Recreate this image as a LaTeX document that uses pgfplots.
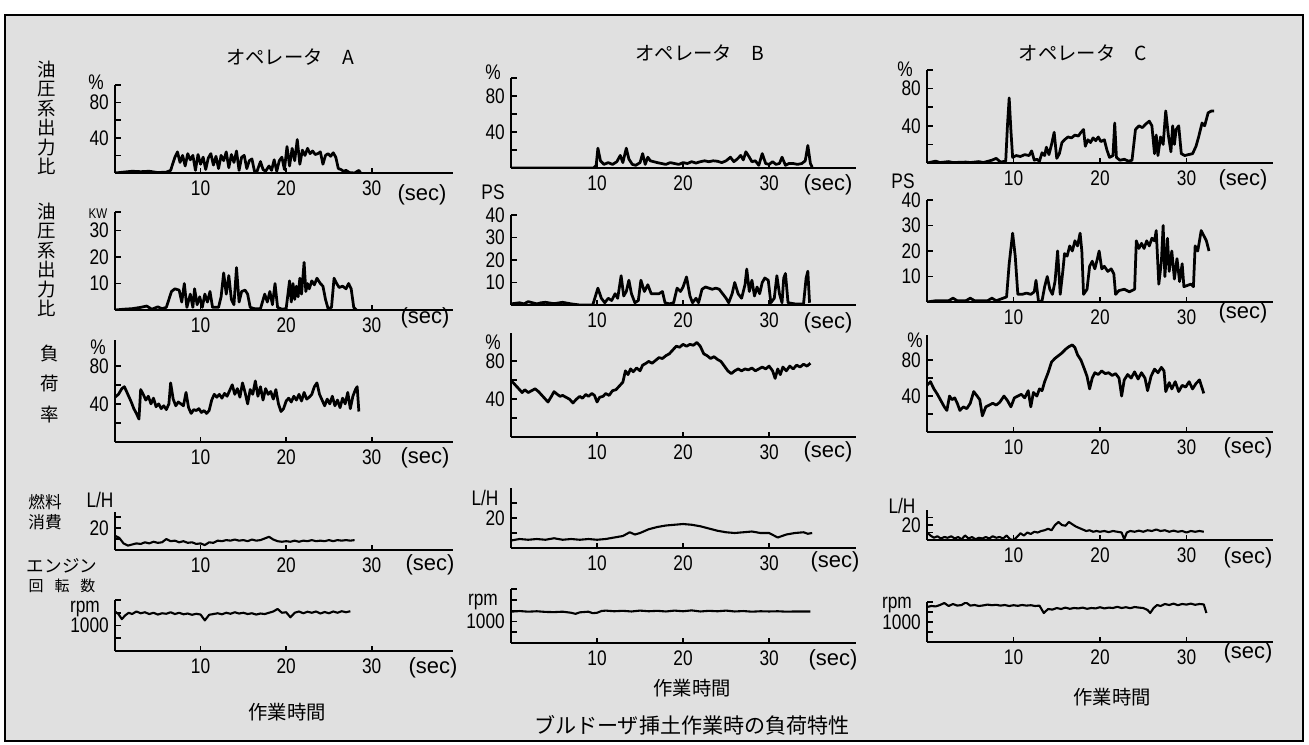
\documentclass[border=0pt]{standalone}
\usepackage{fontspec}
\setmainfont{Liberation Sans}
\newfontfamily\jp{Noto Sans CJK JP}
\newfontfamily\cond[FakeStretch=0.82]{Liberation Sans}
\usepackage{pgfplots}
\pgfplotsset{compat=1.18}
\pgfplotsset{
 panel/.style={scale only axis, anchor=south west, axis x line=bottom, axis y line=left,
  axis line style={-, line width=0.4mm}, xmin=0, xtick={10,20,30}, xticklabels={10,20,30},
  tick align=inside, major tick length=1.1mm, tick style={line width=0.35mm,black},
  ticklabel style={font=\cond\fontsize{12}{12}\selectfont},
  xticklabel style={yshift=-0.4mm},
  ymin=0},
 trace/.style={line width=0.55mm, black, line join=round, mark=none},
 thin trace/.style={line width=0.42mm, black, line join=round, mark=none},
}
\begin{document}
\begin{tikzpicture}[x=0.2mm,y=-0.2mm]
\useasboundingbox (0,0) rectangle (1309,744);
\fill[black!12] (5,15) rectangle (1303,741);
\draw[line width=0.4mm] (5,15) rectangle (1303,741);

% ================= Column A =================
\begin{axis}[panel, at={(115*0.2mm,-173*0.2mm)}, width=67.6mm, height=17.6mm, xmax=39.5, ymax=100,
  ytick={20,40,60,80,100}, yticklabels={,40,,80,}]
\addplot[trace] coordinates {(0,0)(1,1)(2,2)(3,1.5)(4,2)(5,0.5)(6,1)(6.5,3)(7,18)(7.3,24)(7.6,12)(7.9,20)(8.2,8)(8.5,22)(8.8,15)(9.1,20)(9.4,3)(9.7,21)(10,10)(10.3,18)(10.6,4)(10.9,17)(11.2,22)(11.5,9)(11.8,19)(12.1,5)(12.4,20)(12.7,14)(13,24)(13.3,6)(13.6,21)(13.9,12)(14.2,25)(14.5,3)(14.8,18)(15.1,20)(15.4,5)(15.7,14)(16,16)(16.3,2)(16.6,2)(17,13)(17.3,4)(17.6,2)(18,8)(18.3,3)(18.6,15)(18.9,2)(19.2,14)(19.5,18)(19.8,4)(20.1,30)(20.4,8)(20.7,28)(21,14)(21.3,38)(21.6,10)(21.9,26)(22.2,20)(22.5,28)(22.8,22)(23.1,25)(23.4,21)(23.7,22)(24,24)(24.3,10)(24.6,20)(24.9,22)(25.2,19)(25.5,23)(25.8,18)(26.1,5)(26.4,4)(26.7,2)(27,3)(27.4,0.5)(28,0)(28.5,3)(28.7,0)};
\end{axis}

\begin{axis}[panel, at={(115*0.2mm,-310*0.2mm)}, width=67.6mm, height=19.6mm, xmax=39.5, ymax=37,
  ytick={10,20,30,37}, yticklabels={10,20,30,}]
\addplot[trace] coordinates {(0,0)(1,0.3)(2,0.5)(3,1)(3.7,1.5)(4.3,0.3)(5,1.2)(5.5,0.5)(6,1)(6.6,7)(7,8)(7.5,7.5)(7.8,3)(8.1,10)(8.4,1)(8.8,6)(9.1,1)(9.3,8)(9.6,2)(9.9,5)(10.2,1)(10.5,6)(10.8,3)(11.1,7)(11.4,1)(11.7,1)(12.1,1)(12.4,5)(12.7,14)(13,6)(13.3,13)(13.6,4)(13.9,2)(14.2,16)(14.5,3)(14.8,7)(15.2,7.5)(15.5,6)(15.8,1)(16.3,0.5)(17,0.5)(17.5,6)(17.8,3)(18.1,7)(18.4,2)(18.7,10)(19,1)(19.5,0.3)(20,0.5)(20.4,11)(20.6,3)(20.8,10)(21,4)(21.2,9)(21.4,5)(21.6,12)(21.8,6)(22.1,18)(22.3,7)(22.5,10)(22.7,8)(23,11)(23.3,9.5)(23.6,12)(24,10)(24.3,9)(24.6,4)(24.9,0.5)(25.3,1)(25.6,12)(25.9,10)(26.2,8.5)(26.6,9)(27,8)(27.3,10)(27.6,8)(27.9,1)(28.2,0)};
\end{axis}

\begin{axis}[panel, at={(115*0.2mm,-442*0.2mm)}, width=67.6mm, height=20.4mm, xmax=39.5, ymax=107,
  ytick={20,40,60,80}, yticklabels={,40,,80}]
\addplot[trace] coordinates {(0,47)(0.4,50)(0.8,56)(1.1,58)(1.5,50)(1.9,42)(2.2,35)(2.5,30)(2.8,24)(3.0,55)(3.3,50)(3.6,44)(3.9,48)(4.2,40)(4.5,46)(4.8,37)(5.1,40)(5.4,35)(5.7,38)(6.0,34)(6.3,40)(6.5,62)(6.8,45)(7.1,38)(7.4,42)(7.7,40)(8.0,38)(8.3,52)(8.6,36)(8.9,30)(9.2,34)(9.5,33)(9.8,35)(10.1,31)(10.4,33)(10.7,30)(11.0,33)(11.3,44)(11.6,50)(11.9,47)(12.2,50)(12.5,46)(12.8,51)(13.1,48)(13.4,54)(13.7,60)(14.0,50)(14.3,56)(14.6,47)(14.9,62)(15.2,52)(15.5,40)(15.8,55)(16.1,50)(16.4,64)(16.7,48)(17.0,58)(17.3,44)(17.6,56)(17.9,50)(18.2,53)(18.5,45)(18.8,55)(19.1,40)(19.4,32)(19.7,35)(20.0,43)(20.3,46)(20.6,42)(20.9,48)(21.2,44)(21.5,50)(21.8,43)(22.1,52)(22.4,45)(22.7,47)(23.0,50)(23.3,58)(23.6,62)(23.9,50)(24.2,44)(24.5,38)(24.8,45)(25.1,40)(25.4,48)(25.7,38)(26.0,44)(26.3,36)(26.6,46)(26.9,40)(27.2,52)(27.5,35)(27.8,48)(28.1,55)(28.3,58)(28.5,32)};
\end{axis}

\begin{axis}[panel, at={(115*0.2mm,-550*0.2mm)}, width=67.6mm, height=7.6mm, xmax=39.5, ymax=34.5,
  ytick={10,20,30}, yticklabels={,20,}]
\addplot[thin trace] coordinates {(0,13)(0.5,11)(1,6)(1.5,4)(2,5)(2.5,6)(3,5.5)(3.5,7)(4,6)(4.5,7.5)(5,6.5)(5.5,7)(6,10)(6.5,8)(7,8.5)(7.5,7)(8,8)(8.5,6.5)(9,7)(9.5,5.5)(10,6)(10.5,4.5)(11,7)(11.5,6.5)(12,8.5)(12.5,8)(13,9)(13.5,8.5)(14,9.5)(14.5,8.5)(15,9)(15.5,8)(16,9.5)(16.5,8.5)(17,9)(17.5,10.5)(18,12)(18.5,9.5)(19,8)(19.5,7.5)(20,8)(20.5,7.5)(21,8.5)(21.5,7.5)(22,8.5)(22.5,8)(23,9)(23.5,8)(24,8.5)(24.5,8)(25,9)(25.5,8)(26,9)(26.5,8.5)(27,9)(27.5,8.5)(28,9)};
\end{axis}

\begin{axis}[panel, at={(115*0.2mm,-651*0.2mm)}, width=67.6mm, height=10.2mm, xmax=39.5, ymax=2000,
  ytick={500,1000,1500,2000}, yticklabels={,1000,,}]
\addplot[thin trace] coordinates {(0,1550)(0.4,1450)(0.8,1250)(1.2,1400)(1.6,1500)(2,1450)(2.5,1550)(3,1480)(3.5,1520)(4,1450)(4.5,1500)(5,1430)(5.5,1480)(6,1460)(6.5,1520)(7,1450)(7.5,1500)(8,1440)(8.5,1470)(9,1420)(9.5,1460)(10,1430)(10.5,1200)(11,1420)(11.5,1450)(12,1480)(12.5,1440)(13,1500)(13.5,1460)(14,1520)(14.5,1470)(15,1500)(15.5,1450)(16,1480)(16.5,1430)(17,1470)(17.5,1450)(18,1500)(18.5,1550)(19,1650)(19.5,1500)(20,1520)(20.5,1320)(21,1500)(21.5,1550)(22,1480)(22.5,1540)(23,1500)(23.5,1550)(24,1470)(24.5,1530)(25,1480)(25.5,1550)(26,1500)(26.5,1560)(27,1520)(27.5,1560)};
\end{axis}

% ================= Column B =================
\begin{axis}[panel, at={(511*0.2mm,-168*0.2mm)}, width=69mm, height=18mm, xmax=40.1, ymax=100,
  ytick={20,40,60,80,100}, yticklabels={,40,,80,}]
\addplot[trace] coordinates {(0,0)(9.6,0)(9.9,3)(10.1,22)(10.4,8)(10.8,4)(11.3,6)(11.8,4)(12.3,7)(12.7,14)(13.0,6)(13.4,22)(13.7,10)(14.1,4)(14.5,3)(15.0,6)(15.3,16)(15.6,4)(15.9,12)(16.2,8)(16.6,7)(17.0,6)(17.5,5)(18.0,4)(18.5,6)(19.0,5)(19.5,4)(20.0,6)(20.5,5)(21.0,7)(21.5,5.5)(22.0,7)(22.5,8)(23.0,7)(23.5,8)(24.0,7.5)(24.5,6)(25.0,8)(25.5,12)(25.9,7)(26.3,10)(26.7,14)(27.0,9)(27.3,18)(27.7,12)(28.0,7)(28.4,8)(28.8,3)(29.2,16)(29.6,5)(30.0,4)(30.4,7)(30.8,4)(31.2,5)(31.5,12)(31.9,3)(32.3,5)(32.8,5)(33.3,4)(33.8,5)(34.2,8)(34.5,25)(34.8,5)(35.0,1)};
\end{axis}

\begin{axis}[panel, at={(511*0.2mm,-305*0.2mm)}, width=69mm, height=18mm, xmax=40.1, ymax=40,
  ytick={10,20,30,40}, yticklabels={10,20,30,40}]
\addplot[trace] coordinates {(0,0.5)(1,1)(1.5,0.5)(2,1.5)(3,0.5)(3.5,1)(4,1.2)(5,0.6)(6,1.2)(7,0.5)(8,0)(9.5,0)(10.1,7.5)(10.5,3)(10.9,1)(11.3,3)(11.7,2)(12.1,5)(12.4,3)(12.8,13)(13.1,4)(13.4,6)(13.7,11)(14.0,5)(14.4,1)(14.8,2)(15.1,11)(15.5,6)(15.9,9)(16.3,5)(16.7,5)(17.2,5)(17.6,6)(17.9,1)(18.4,0.5)(18.9,1)(19.3,7.5)(19.7,6)(20.0,8)(20.4,12.5)(20.8,4)(21.1,1)(21.5,3)(21.8,1)(22.2,7)(22.6,8)(23.0,7.5)(23.4,7)(23.8,7.5)(24.2,7)(24.6,5)(25.0,3)(25.3,1)(25.7,5)(26.0,10)(26.4,5)(26.8,3)(27.2,9)(27.4,16)(27.7,6)(28.0,11)(28.3,4)(28.6,8)(28.9,5)(29.2,10)(29.5,12)(29.9,11)(30.2,1)(30.6,3)(30.9,13)(31.2,5)(31.5,1)(31.7,12)(31.9,14)(32.2,1)(33,0.5)(34.0,0.5)(34.3,12)(34.5,15)(34.7,1)};
\end{axis}

\begin{axis}[panel, at={(511*0.2mm,-437*0.2mm)}, width=69mm, height=20.8mm, xmax=40.1, ymax=110,
  ytick={20,40,60,80}, yticklabels={,40,,80}]
\addplot[trace] coordinates {(0,60)(0.3,57)(0.6,54)(1,50)(1.3,47)(1.6,50)(2,47)(2.4,49)(2.8,51)(3.2,48)(3.6,44)(4,40)(4.3,37)(4.7,43)(5,48)(5.4,45)(5.7,43)(6,44)(6.4,42)(6.8,40)(7.2,36)(7.6,40)(8,43)(8.3,41)(8.7,45)(9,43)(9.4,46)(9.7,44)(10,37)(10.3,42)(10.7,43)(11,46)(11.4,44)(11.8,49)(12.2,50)(12.6,54)(13,58)(13.3,70)(13.6,66)(13.9,72)(14.2,69)(14.6,73)(15,70)(15.3,76)(15.7,78)(16,80)(16.4,78)(16.8,81)(17.2,84)(17.6,83)(18,86)(18.4,88)(18.8,92)(19.2,96)(19.6,95)(20,98)(20.4,96)(20.8,98)(21.2,97)(21.6,100)(22,96)(22.4,88)(22.8,86)(23.2,83)(23.6,85)(24,82)(24.4,80)(24.8,75)(25.2,70)(25.6,67)(26,70)(26.4,72)(26.8,70)(27.2,72)(27.6,71)(28,73)(28.4,70)(28.8,72)(29.2,74)(29.6,72)(30,75)(30.4,70)(30.7,62)(31,72)(31.3,66)(31.6,74)(32,70)(32.4,75)(32.8,72)(33.2,76)(33.6,74)(34,77)(34.4,75)(34.8,78)};
\end{axis}

\begin{axis}[panel, at={(511*0.2mm,-548*0.2mm)}, width=69mm, height=12mm, xmax=40.1, ymax=40,
  ytick={10,20,30}, yticklabels={,20,}]
\addplot[thin trace] coordinates {(0,5)(1,6)(2,5.5)(3,6)(4,5.5)(5,6.5)(6,5.5)(7,6)(8,5.5)(9,6)(10,5.5)(11,6)(12,7)(13,8)(13.8,10.5)(14.4,9)(15,10)(16,12.5)(17,14)(18,15)(19,15.5)(20,16)(21,15.5)(22,14.5)(23,13)(24,11.5)(25,10.5)(26,10)(27,10.5)(28,11)(29,10)(30,10)(30.5,8.5)(31,7)(31.5,8)(32,9)(33,10)(34,10.5)(34.5,9.5)(35,10)};
\end{axis}

\begin{axis}[panel, at={(511*0.2mm,-643*0.2mm)}, width=69mm, height=10.8mm, xmax=40.1, ymax=2500,
  ytick={500,1000,1500,2000,2500}, yticklabels={,1000,,,}]
\addplot[thin trace] coordinates {(0,1450)(1,1480)(2,1450)(3,1470)(4,1440)(5,1430)(6,1450)(7,1400)(7.5,1350)(8,1420)(9,1450)(9.5,1380)(10,1400)(10.5,1480)(11,1500)(12,1470)(13,1490)(14,1460)(15,1500)(16,1470)(17,1490)(18,1460)(19,1500)(20,1470)(21,1510)(22,1460)(23,1490)(24,1470)(25,1500)(26,1460)(27,1480)(28,1450)(29,1470)(30,1460)(31,1470)(32,1450)(33,1460)(34,1460)(34.8,1460)};
\end{axis}

% ================= Column C =================
\begin{axis}[panel, at={(927*0.2mm,-163*0.2mm)}, width=69.2mm, height=18.6mm, xmax=40, ymax=100,
  ytick={20,40,60,80,100}, yticklabels={,40,,80,}]
\addplot[trace] coordinates {(0,0)(1,2)(1.5,0.5)(2.5,1.5)(3,0.5)(4.5,1)(5,0.5)(6,1.5)(6.5,0.5)(7.5,3)(8,5)(8.5,1)(9.1,2)(9.3,40)(9.5,70)(9.7,35)(9.9,6)(10.3,8)(10.8,7)(11.3,9)(11.8,8)(12.1,13)(12.4,3)(12.7,4)(13,2)(13.3,11)(13.6,8)(13.8,17)(14.1,9)(14.4,20)(14.7,33)(15.0,5)(15.3,10)(15.6,22)(15.9,25)(16.3,28)(16.7,27)(17.1,30)(17.5,29)(17.8,33)(18.1,36)(18.3,18)(18.6,25)(18.9,22)(19.2,27)(19.5,24)(19.8,28)(20.1,23)(20.5,25)(20.8,14)(21.1,6)(21.5,8)(21.7,43)(21.9,6)(22.3,3)(22.8,4)(23.3,2)(23.7,3)(24.1,36)(24.5,40)(24.9,38)(25.3,42)(25.7,45)(26,40)(26.3,10)(26.5,30)(26.7,8)(27.0,28)(27.3,20)(27.6,56)(27.9,30)(28.2,12)(28.4,40)(28.6,20)(28.8,36)(29.1,40)(29.4,10)(29.8,8)(30.2,9)(30.7,10)(31.1,18)(31.4,28)(31.8,43)(32.1,40)(32.5,54)(32.9,56)(33.2,56)};
\end{axis}

\begin{axis}[panel, at={(927*0.2mm,-302*0.2mm)}, width=69.2mm, height=20.4mm, xmax=40, ymax=40,
  ytick={10,20,30,40}, yticklabels={10,20,30,40}]
\addplot[trace] coordinates {(0,0)(1,0.5)(2.5,0.5)(3,1.5)(3.5,0.5)(4.5,0.5)(5,1.5)(5.5,0.5)(7,0.5)(7.5,1.5)(8,0.5)(9.2,2)(9.5,15)(9.9,27)(10.2,18)(10.5,3)(11,3)(11.5,3.5)(12,3)(12.4,4)(12.6,8.5)(12.9,0)(13.3,0.5)(13.6,6)(13.9,10)(14.2,5)(14.5,3)(14.8,8)(15.1,20)(15.4,3)(15.7,12)(15.9,19)(16.2,18)(16.5,22)(16.8,20)(17.1,24)(17.4,22)(17.7,27)(17.9,20)(18.1,3)(18.5,5)(18.8,14)(19.1,16)(19.4,13)(19.7,17)(19.9,20)(20.2,13)(20.5,14)(20.9,12)(21.3,13)(21.6,11)(21.8,3)(22.2,4.5)(22.8,5)(23.4,4)(24,5)(24.2,24)(24.5,21)(24.8,23)(25.1,21)(25.4,24)(25.7,22)(26,25)(26.3,24)(26.5,28)(26.8,7)(27.1,16)(27.3,30)(27.5,10)(27.8,25)(28.0,12)(28.3,20)(28.6,9)(28.9,17)(29.2,8)(29.5,15)(29.7,6)(30.1,6.5)(30.5,7)(30.8,6)(31,22)(31.3,20)(31.7,28)(32.0,26)(32.3,24)(32.6,20)};
\end{axis}

\begin{axis}[panel, at={(927*0.2mm,-432*0.2mm)}, width=69.2mm, height=19.4mm, xmax=40, ymax=108,
  ytick={20,40,60,80}, yticklabels={,40,,80}]
\addplot[trace] coordinates {(0,52)(0.4,56)(0.8,48)(1.2,42)(1.6,35)(2,28)(2.3,24)(2.6,40)(2.9,36)(3.2,38)(3.5,32)(3.8,24)(4.2,28)(4.6,26)(5,32)(5.4,45)(5.8,40)(6.1,36)(6.4,18)(6.8,28)(7.2,30)(7.6,32)(8,30)(8.4,33)(8.9,40)(9.3,35)(9.7,28)(10.1,38)(10.5,40)(10.9,42)(11.3,38)(11.7,46)(12.0,28)(12.3,44)(12.7,40)(13.0,48)(13.3,46)(13.6,56)(14.0,66)(14.4,78)(14.8,82)(15.2,85)(15.6,88)(16.0,92)(16.4,95)(16.8,97)(17.1,94)(17.4,86)(17.8,80)(18.2,70)(18.5,62)(18.8,48)(19.1,60)(19.4,66)(19.8,64)(20.2,68)(20.6,65)(21.0,66)(21.4,63)(21.8,65)(22.2,60)(22.5,40)(22.8,58)(23.2,64)(23.6,60)(24.0,67)(24.4,59)(24.8,66)(25.2,60)(25.5,46)(25.9,62)(26.3,70)(26.7,66)(27.1,72)(27.4,68)(27.6,45)(28.0,55)(28.3,48)(28.7,56)(29.1,45)(29.5,52)(29.9,50)(30.3,56)(30.7,48)(31.1,54)(31.5,58)(32.0,43)};
\end{axis}

\begin{axis}[panel, at={(927*0.2mm,-540*0.2mm)}, width=69.2mm, height=6mm, xmax=40, ymax=40,
  ytick={10,20,30}, yticklabels={,20,}]
\addplot[thin trace] coordinates {(0,10)(0.4,6)(0.8,3)(1.2,5)(1.6,2)(2,4)(2.4,3)(2.8,5)(3.2,2)(3.6,4)(4,1)(4.4,6)(4.8,2)(5.2,4)(5.6,1)(6,3)(6.4,2)(6.8,4)(7.2,2)(7.6,5)(8,3)(8.4,4)(8.8,2)(9.2,6)(9.6,1)(10.0,0)(10.4,4)(10.8,9)(11.2,6)(11.6,10)(12,8)(12.4,11)(12.8,10)(13.2,12)(13.6,13)(14,15)(14.4,13)(14.8,20)(15.2,24)(15.6,20)(16,19)(16.4,24)(16.8,21)(17.2,18)(17.6,16)(18,14)(18.4,12)(18.8,13)(19.2,11)(19.6,12)(20,11)(20.5,12)(21,10.5)(21.5,12)(22,11)(22.5,10)(22.8,1)(23.1,10)(23.5,12)(24,11)(24.5,12.5)(25,11)(25.5,13)(26,12)(26.5,14)(27,12)(27.5,13)(28,11)(28.5,12.5)(29,11)(29.5,12)(30,10)(30.5,12)(31,11)(31.5,12)(32,11)};
\end{axis}

\begin{axis}[panel, at={(927*0.2mm,-642*0.2mm)}, width=69.2mm, height=8mm, xmax=40, ymax=2000,
  ytick={500,1000,1500,2000}, yticklabels={,1000,,}]
\addplot[thin trace] coordinates {(0,1750)(0.5,1800)(1,1780)(1.5,1850)(2,1950)(2.5,1800)(3,1900)(3.5,1820)(4,1850)(4.5,1980)(5,1820)(5.5,1850)(6,1800)(6.5,1830)(7,1870)(7.5,1840)(8,1860)(8.5,1820)(9,1850)(9.5,1800)(10,1840)(10.5,1810)(11,1850)(11.5,1820)(12,1840)(12.5,1800)(13,1820)(13.5,1450)(14,1650)(14.5,1620)(15,1700)(15.5,1650)(16,1720)(16.5,1660)(17,1700)(17.5,1680)(18,1720)(18.5,1660)(19,1700)(19.5,1680)(20,1740)(20.5,1680)(21,1720)(21.5,1700)(22,1760)(22.5,1700)(23,1740)(23.5,1690)(24,1750)(24.5,1720)(25,1700)(25.5,1600)(25.8,1450)(26.2,1700)(26.6,1850)(27,1800)(27.5,1900)(28,1850)(28.5,1920)(29,1840)(29.5,1900)(30,1870)(30.5,1920)(31,1860)(31.5,1900)(32,1880)(32.3,1450)};
\end{axis}

% ================= Texts =================
\begin{scope}[every node/.style={inner sep=0pt}]
\node[font=\jp\fontsize{11}{13}\selectfont] at (290,57) {オペレータ\quad A};
\node[font=\jp\fontsize{11}{13}\selectfont] at (700,53) {オペレータ\quad B};
\node[font=\jp\fontsize{11}{13}\selectfont] at (1083,53) {オペレータ\quad C};

\node[align=center, font=\jp\fontsize{10.5}{11.1}\selectfont] at (47,118) {油\\圧\\系\\出\\力\\比};
\node[align=center, font=\jp\fontsize{10.5}{11.1}\selectfont] at (47,260) {油\\圧\\系\\出\\力\\比};
\node[align=center, font=\jp\fontsize{10.5}{17.6}\selectfont] at (50,384) {負\\荷\\率};
\node[align=center, font=\jp\fontsize{9.5}{11.5}\selectfont] at (45,512) {燃料\\消費};
\node[font=\jp\fontsize{10}{12}\selectfont] at (62,566) {エンジン};
\node[font=\jp\fontsize{8.5}{10}\selectfont] at (62,586) {回\hspace{2.2mm}転\hspace{2.2mm}数};

\begin{scope}[every node/.append style={font=\cond\fontsize{12}{12}\selectfont}]
\node at (96,82) {\%};
\node[font=\cond\fontsize{8}{8}\selectfont] at (98,214) {KW};
\node at (98,347) {\%};
\node at (100,500) {L/H};
\node at (85,609) {rpm};
\node at (493,72) {\%};
\node at (493,192) {PS};
\node at (493,342) {\%};
\node at (485,498) {L/H};
\node at (483,602) {rpm};
\node at (905,69) {\%};
\node at (903,181) {PS};
\node at (915,340) {\%};
\node at (902,506) {L/H};
\node at (897,605) {rpm};
\end{scope}

\begin{scope}[every node/.append style={font=\fontsize{12.5}{13}\selectfont}]
\node at (422,195) {(sec)};
\node at (425,318) {(sec)};
\node at (425,458) {(sec)};
\node at (430,565) {(sec)};
\node at (433,668) {(sec)};
\node at (828,185) {(sec)};
\node at (828,323) {(sec)};
\node at (828,452) {(sec)};
\node at (835,562) {(sec)};
\node at (833,660) {(sec)};
\node at (1243,180) {(sec)};
\node at (1243,313) {(sec)};
\node at (1248,448) {(sec)};
\node at (1248,558) {(sec)};
\node at (1248,653) {(sec)};
\end{scope}

\node[font=\jp\fontsize{11}{13}\selectfont] at (287,712) {作業時間};
\node[font=\jp\fontsize{11}{13}\selectfont] at (692,688) {作業時間};
\node[font=\jp\fontsize{11}{13}\selectfont] at (1112,697) {作業時間};
\node[font=\jp\fontsize{12}{14}\selectfont] at (692,725) {ブルドーザ挿土作業時の負荷特性};
\end{scope}
\end{tikzpicture}
\end{document}
